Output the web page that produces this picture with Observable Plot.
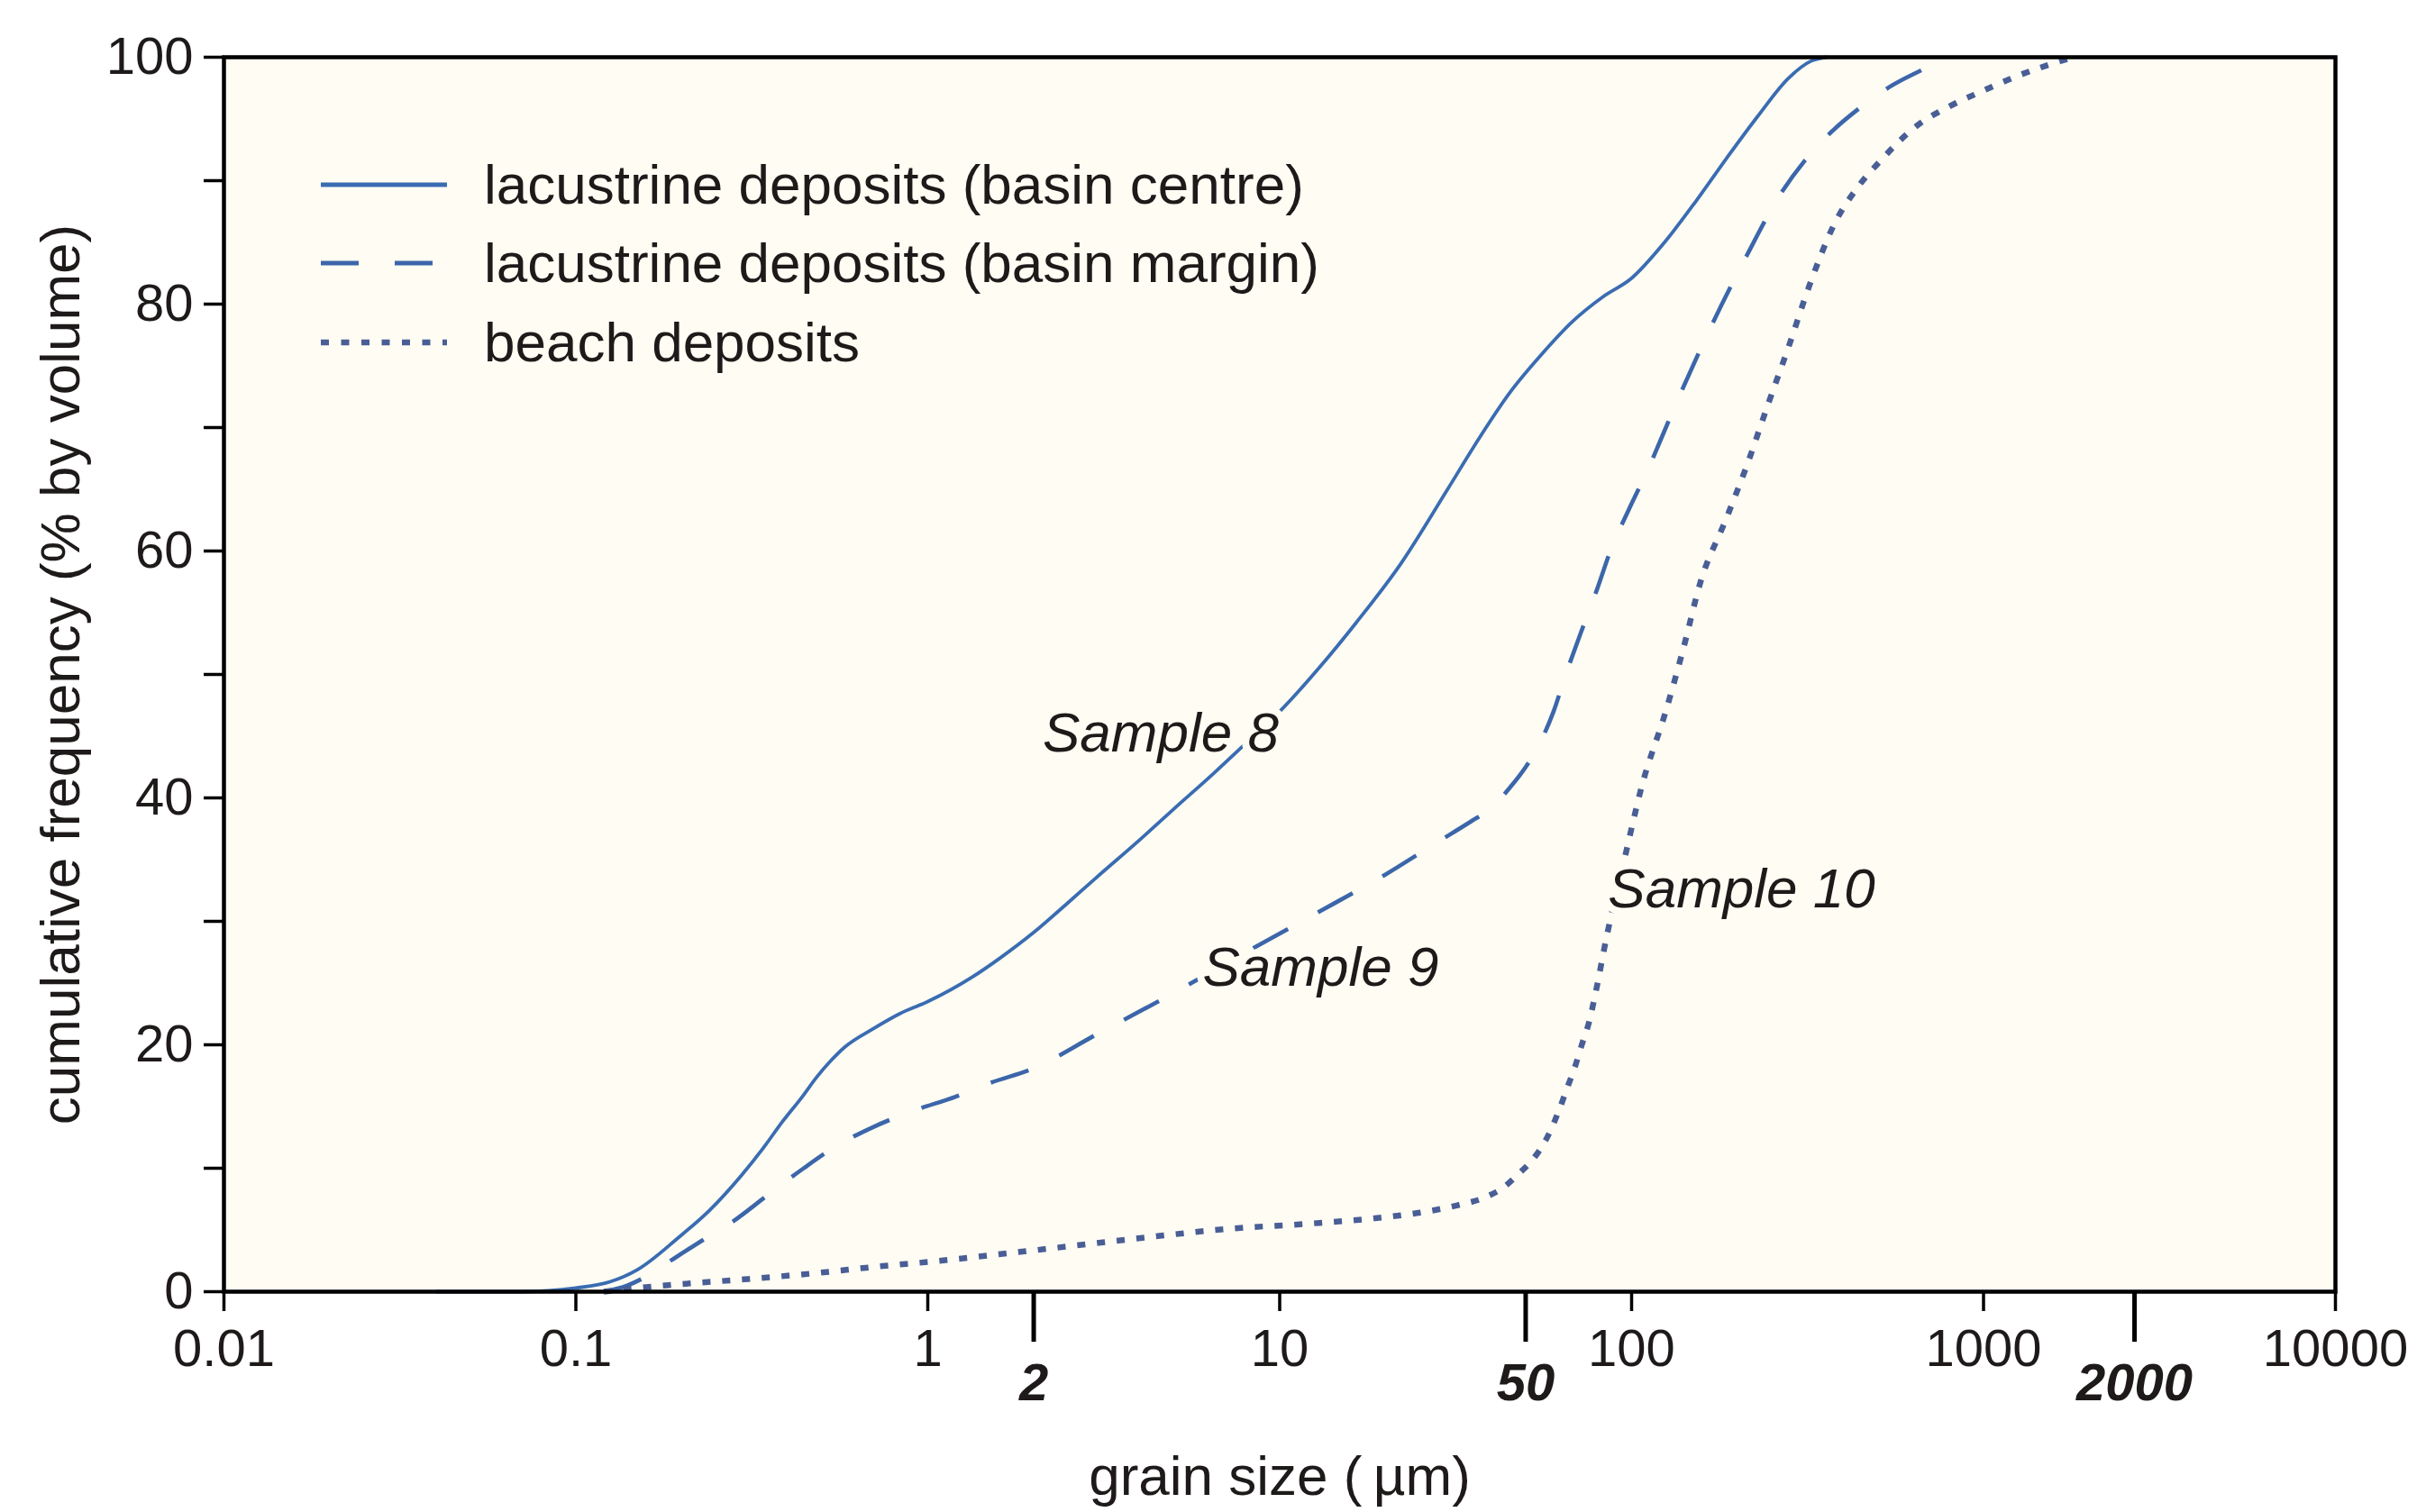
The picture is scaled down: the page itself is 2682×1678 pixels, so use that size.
<!DOCTYPE html>
<html>
<head>
<meta charset="utf-8">
<script src="https://cdn.jsdelivr.net/npm/d3@7"></script>
<script src="https://cdn.jsdelivr.net/npm/@observablehq/plot@0.6"></script>
<style>
  html, body { margin: 0; padding: 0; background: #ffffff; }
  #wrap { position: relative; width: 2682px; height: 1678px; font-family: "Liberation Sans", Arial, sans-serif; color: #1e1a1a; }
  #legend { position: absolute; left: 356px; top: 161px; }
  .row { display: flex; align-items: center; height: 87.5px; }
  .row svg { width: 140px; height: 20px; margin-right: 41px; }
  .row span { font-size: 62px; line-height: 1; white-space: nowrap; }
</style>
</head>
<body>
<div id="wrap"><div id="chart"></div><div id="legend"></div></div>
<script>
// ---- data ----
const seriesNames = ["lacustrine deposits (basin centre)", "lacustrine deposits (basin margin)", "beach deposits"];
const sampleLabels = ["Sample 8", "Sample 9", "Sample 10"];

// Sample 8 (solid)
const s8Size = [0.04,0.07,0.1,0.125,0.15,0.196,0.24,0.295,0.34,0.387,0.44,0.484,0.53,0.58,0.7,0.83,1.0,1.34,1.6,2.0,2.5,3.0,4.0,5.0,6.5,8.0,10,13,16.5,22,30,37,45,55,68,83,100,124,152,186,228,279,324,359];
const s8Pct  = [0,0,0.3,0.8,1.8,4.4,6.6,9.4,11.6,13.8,15.8,17.4,18.7,19.8,21.3,22.5,23.5,25.5,27.0,29.1,31.5,33.5,36.6,39.1,42.0,44.4,47.0,50.6,54.2,58.9,65.0,69.2,72.8,75.8,78.6,80.6,82.1,85,88.3,91.8,95.2,98.3,99.7,100];

// Sample 9 (dashed)
const s9Size = [0.12,0.14,0.16,0.188,0.23,0.28,0.35,0.444,0.55,0.695,0.9,1.2,1.5,2,3,5,8.5,12.6,20,28,35,40,45,50,55,60,65,72,80,87,98,110,135,167,213,262,310,365,450,541,650,800];
const s9Pct  = [0,0.5,1.3,2.6,4.2,5.7,7.8,10,11.8,13.3,14.6,15.8,16.9,18.1,20.8,24.2,27.9,30.6,33.8,36.4,38.1,39.2,40.8,42.5,44.5,47,50,53.5,57,60,63.3,66.3,72.2,78,84,88.7,91.6,93.8,96,97.6,98.8,100];

// Sample 10 (dotted)
const s10Size = [0.12,0.15,0.196,0.3,0.48,0.7,1.08,1.8,2.95,4.5,7.2,12,17.9,25,32,38,43,48.4,52,57.8,62,66,69,72,75.8,79,85,95,107,125,140,157,185,213,245,279,320,377,440,509,650,798,1000,1253,1500,1798];
const s10Pct  = [0,0.3,0.6,1,1.5,2,2.5,3.2,3.9,4.5,5.1,5.5,5.9,6.4,7,7.6,8.4,9.7,10.6,12.6,14.6,16.7,18.2,19.9,21.9,24.2,28.8,34.8,41,47,52,57.5,62.5,67,72,76.5,81.5,86.5,89.5,91.6,94.5,96,97.3,98.5,99.3,100];

// annotation anchors (grain size, percent)
const labelSize = [2.12, 6.04, 85.7];
const labelPct  = [45.2, 26.2, 32.6];

// axis ticks
const xTicks = [0.01, 0.1, 1, 10, 100, 1000, 10000];
const xTickLabels = ["0.01", "0.1", "1", "10", "100", "1000", "10000"];
const boldTicks = [2, 50];
const boldTicksRight = [2000];
const yTicks = [0,10,20,30,40,50,60,70,80,90,100];
const xLabel = "grain size (\u2009\u00b5m)";
const yLabel = "cumulative frequency (% by volume)";

// ---- styles ----
const colors = ["#3a6cb2", "#3c66aa", "#4a5e96"];
const widths = [3.8, 4.6, 6.5];
const dashes = [null, "44,38", "9,13"];
const bg = "#fefcf3";
const ink = "#1e1a1a";

const s8 = s8Size.map((d, i) => ({size: d, pct: s8Pct[i]}));
const s9 = s9Size.map((d, i) => ({size: d, pct: s9Pct[i]}));
const s10 = s10Size.map((d, i) => ({size: d, pct: s10Pct[i]}));
const series = [s8, s9, s10];
const labels = sampleLabels.map((t, i) => ({text: t, size: labelSize[i], pct: labelPct[i]}));

const tickLabelMap = new Map(xTicks.map((t, i) => [t, xTickLabels[i]]));

const lineMarks = series.map((s, i) => Plot.line(s, {
  x: "size", y: "pct", stroke: colors[i], strokeWidth: widths[i],
  strokeDasharray: dashes[i], curve: "monotone-x", strokeLinecap: "butt"
}));

const chart = Plot.plot({
  width: 2682,
  height: 1678,
  marginLeft: 248,
  marginRight: 91,
  marginTop: 63,
  marginBottom: 245,
  style: {fontFamily: "Liberation Sans, Arial, sans-serif", fontSize: "58px", background: "white", color: ink},
  x: {type: "log", domain: [0.01, 10000]},
  y: {domain: [0, 100]},
  marks: [
    Plot.frame({fill: bg, stroke: null}),
    ...lineMarks,
    Plot.text(labels, {x: "size", y: "pct", text: "text", textAnchor: "start", fontStyle: "italic",
      fontSize: 62, fill: ink, stroke: bg, strokeWidth: 16}),
    Plot.axisX(xTicks, {tickSize: 22, tickPadding: 19, strokeWidth: 3.5, stroke: "#000",
      tickFormat: d => tickLabelMap.get(d), fontSize: 58, fill: ink, label: null}),
    Plot.axisX(boldTicks, {tickSize: 56, tickPadding: 23, strokeWidth: 5, stroke: "#000",
      tickFormat: d => String(d), fontSize: 58, fontWeight: "bold", fontStyle: "italic", fill: ink, label: null}),
    Plot.axisX(boldTicksRight, {tickSize: 56, tickPadding: 23, strokeWidth: 5, stroke: "#000",
      tickFormat: d => String(d), fontSize: 58, fontWeight: "bold", fontStyle: "italic", fill: ink, dx: 50, label: null}),
    Plot.axisY(yTicks, {tickSize: 22, tickPadding: 12, strokeWidth: 3.5, stroke: "#000",
      tickFormat: d => (d % 20 === 0 ? String(d) : ""), fontSize: 58, fill: ink, label: null}),
    Plot.text([yLabel], {frameAnchor: "left", dx: -180, rotate: -90, textAnchor: "middle", fontSize: 62, fill: ink, lineAnchor: "middle"}),
    Plot.text([xLabel], {frameAnchor: "bottom", dy: 206, textAnchor: "middle", fontSize: 62, fill: ink, lineAnchor: "middle"}),
    Plot.frame({stroke: "#000", strokeWidth: 4.5})
  ]
});
document.getElementById("chart").appendChild(chart);

// legend overlay
const legend = document.getElementById("legend");
seriesNames.forEach((name, i) => {
  const row = document.createElement("div");
  row.className = "row";
  const dash = dashes[i] ? `stroke-dasharray="${i === 1 ? "42,40" : "9,13.5"}"` : "";
  row.innerHTML = `<svg viewBox="0 0 140 20"><line x1="0" y1="10" x2="140" y2="10" stroke="${colors[i]}" stroke-width="${i === 2 ? 6.5 : 5}" ${dash}/></svg><span>${name}</span>`;
  legend.appendChild(row);
});
</script>
</body>
</html>
